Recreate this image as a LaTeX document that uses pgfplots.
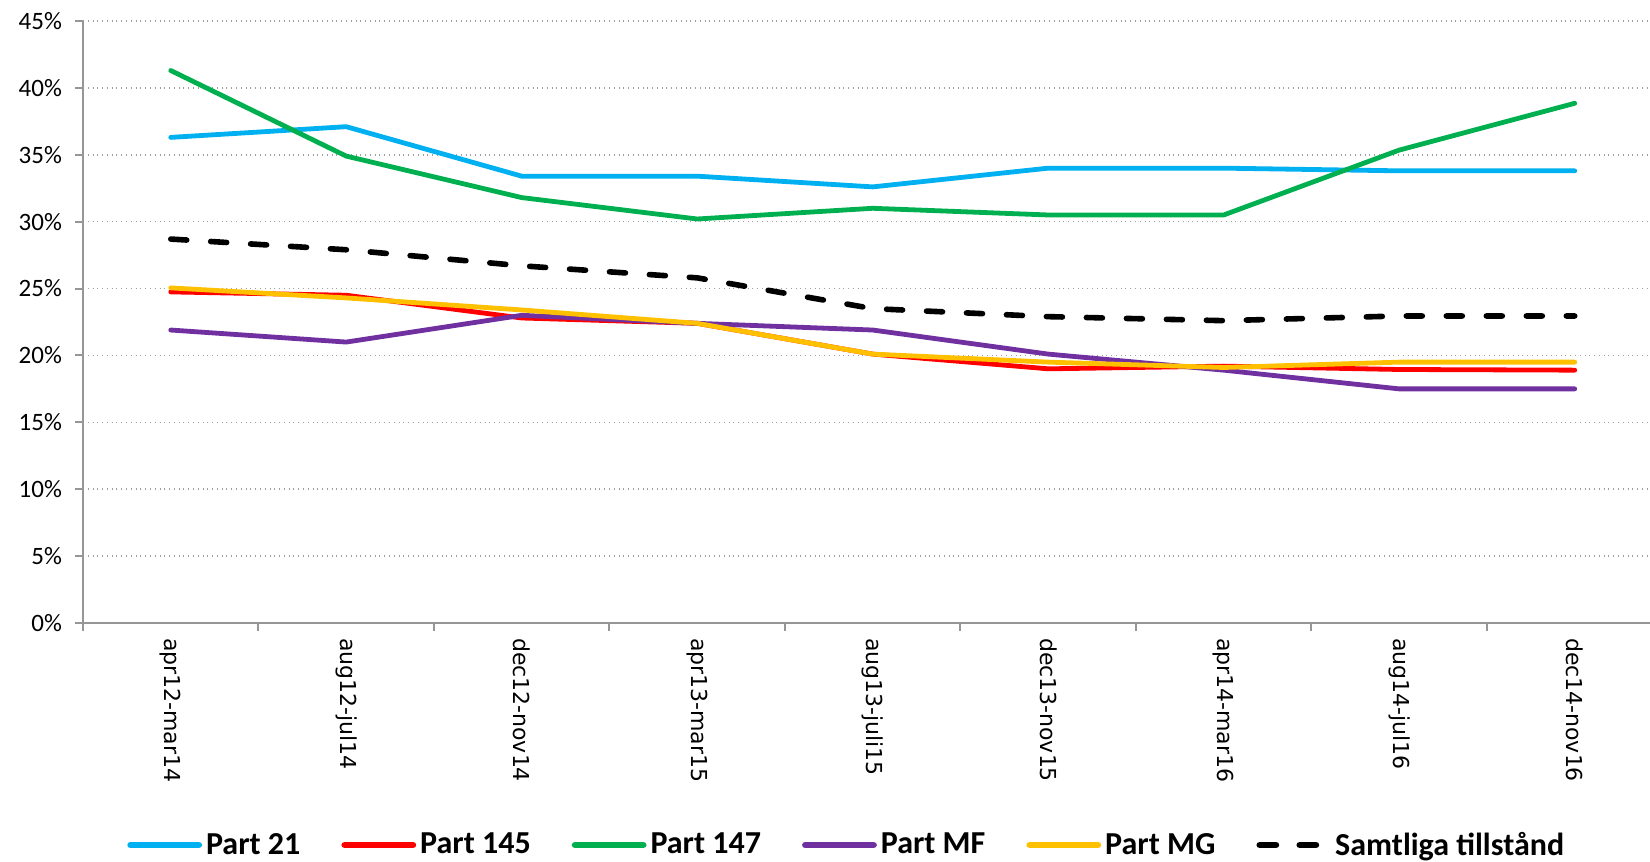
\documentclass[border=0pt]{standalone}
\usepackage{pgfplots}
\pgfplotsset{compat=1.18}
\usepackage{fontspec}
\setmainfont{Carlito}
\newfontfamily\dejavu{DejaVu Sans}
\definecolor{cA}{HTML}{00B0F0}
\definecolor{cB}{HTML}{FF0000}
\definecolor{cC}{HTML}{00B050}
\definecolor{cD}{HTML}{7030A0}
\definecolor{cE}{HTML}{FFC000}
\definecolor{axgray}{HTML}{969696}
\begin{document}
\begin{tikzpicture}
\useasboundingbox (0,0) rectangle (825bp,431bp);
\begin{axis}[
  at={(41.5bp,119.5bp)}, anchor=south west,
  scale only axis, width=783.5bp, height=301bp,
  xmin=-0.5, xmax=8.429, ymin=0, ymax=45,
  axis x line*=bottom, axis y line*=left,
  axis line style={draw=axgray, line width=1bp},
  xtick={0,...,8},
  xticklabels={apr12-mar14,aug12-jul14,dec12-nov14,apr13-mar15,aug13-juli15,dec13-nov15,apr14-mar16,aug14-jul16,dec14-nov16},
  major x tick style={draw=none},
  minor xtick={-0.5,0.5,1.5,2.5,3.5,4.5,5.5,6.5,7.5},
  x tick label style={font=\dejavu\fontsize{11bp}{13bp}\selectfont, rotate=-90, anchor=west},
  ytick={0,5,...,45},
  yticklabels={0\%,5\%,10\%,15\%,20\%,25\%,30\%,35\%,40\%,45\%},
  y tick label style={font=\fontsize{12.5bp}{14bp}\selectfont, xshift=-3bp},
  tick align=outside, major tick length=4bp, minor tick length=4bp,
  tick style={draw=axgray, line width=1bp},
  ymajorgrids,
  major grid style={draw=gray!75, dotted, line width=0.8bp},
  legend columns=6,
  legend style={at={(0.4880,-0.3688)}, anchor=center, draw=none, fill=none,
    font=\bfseries\fontsize{16bp}{18bp}\selectfont,
    /tikz/every even column/.append style={column sep=18.5bp}},
  legend image code/.code={\draw[#1, line width=3.4bp] (0bp,0bp) -- (34bp,0bp);},
  every axis plot/.append style={line width=2.4bp, line join=round, line cap=round},
]
\addplot[cA] coordinates {(0,36.3)(1,37.1)(2,33.4)(3,33.4)(4,32.6)(5,34.0)(6,34.0)(7,33.8)(8,33.8)};
\addlegendentry{Part 21}
\addplot[cB] coordinates {(0,24.75)(1,24.5)(2,22.8)(3,22.4)(4,20.1)(5,19.0)(6,19.2)(7,18.95)(8,18.9)};
\addlegendentry{Part 145}
\addplot[cC] coordinates {(0,41.3)(1,34.9)(2,31.8)(3,30.2)(4,31.0)(5,30.5)(6,30.5)(7,35.35)(8,38.85)};
\addlegendentry{Part 147}
\addplot[cD] coordinates {(0,21.9)(1,21.0)(2,23.0)(3,22.4)(4,21.9)(5,20.1)(6,18.9)(7,17.5)(8,17.5)};
\addlegendentry{Part MF}
\addplot[cE] coordinates {(0,25.05)(1,24.3)(2,23.4)(3,22.4)(4,20.1)(5,19.5)(6,19.1)(7,19.5)(8,19.5)};
\addlegendentry{Part MG}
\addplot[black, line width=2.8bp, dash pattern=on 8bp off 12bp] coordinates {(0,28.7)(1,27.9)(2,26.7)(3,25.8)(4,23.5)(5,22.9)(6,22.6)(7,22.95)(8,22.95)};
\addlegendentry{Samtliga tillstånd}
\end{axis}
\end{tikzpicture}
\end{document}
